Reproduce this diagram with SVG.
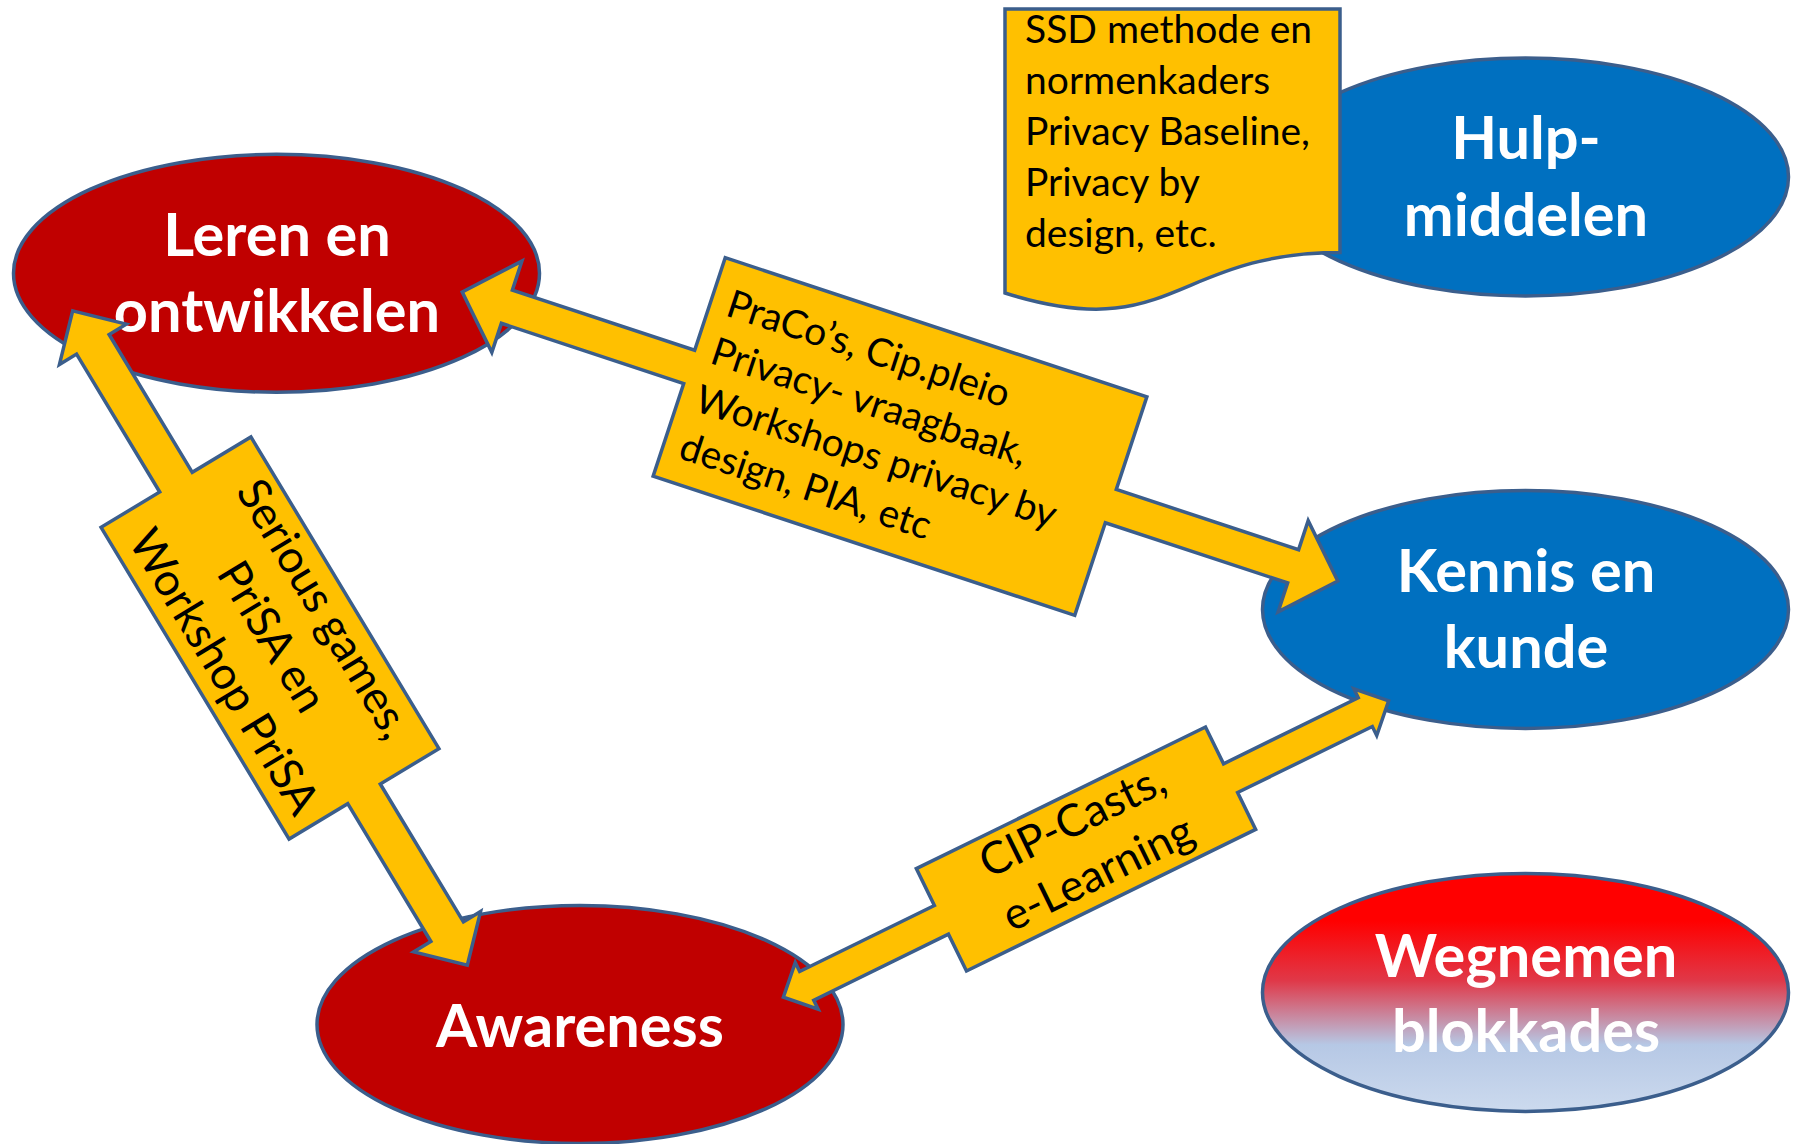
<svg xmlns="http://www.w3.org/2000/svg" width="1796" height="1144" viewBox="0 0 1796 1144">
<defs>
<linearGradient id="gradRB" x1="0" y1="0" x2="0" y2="1">
<stop offset="0" stop-color="#FF0000"/>
<stop offset="0.2" stop-color="#FF0000"/>
<stop offset="0.45" stop-color="#E03848"/>
<stop offset="0.72" stop-color="#B6C8E5"/>
<stop offset="1" stop-color="#CCDAEE"/>
</linearGradient>
</defs>
<style>
.ell { stroke: #3B5E8C; stroke-width: 3.5; }
.red { fill: #C00000; }
.blue { fill: #0070C0; }
.grad { fill: url(#gradRB); }
.yel { fill: #FFC000; stroke: #3B5E8C; stroke-width: 3.5; stroke-linejoin: miter; }
.big { font-family: Lato, "Liberation Sans", sans-serif; font-weight: bold; font-size: 59.5px; fill: #FFFFFF; text-anchor: middle; }
.doc { font-family: Lato, "Liberation Sans", sans-serif; font-size: 39px; fill: #000000; }
.l1 { font-family: Lato, "Liberation Sans", sans-serif; font-size: 39px; fill: #000000; }
.l2 { font-family: Lato, "Liberation Sans", sans-serif; font-size: 45px; fill: #000000; text-anchor: middle; }
.l3 { font-family: Lato, "Liberation Sans", sans-serif; font-size: 44.5px; fill: #000000; text-anchor: middle; }
</style>

<g id="hulpmiddelen">
<ellipse class="ell blue" cx="1525.5" cy="177" rx="263" ry="119"/>
<text class="big" x="1526" y="159">Hulp-</text>
<text class="big" x="1526" y="236">middelen</text>
</g>

<g id="ssd-document">
<path class="yel" d="M1005,9 L1340,9 L1340,252.6 C1173,252.6 1173,345.8 1005,293 Z"/>
<text class="doc" x="1025" y="42.5">SSD methode en</text>
<text class="doc" x="1025" y="93.5">normenkaders</text>
<text class="doc" x="1025" y="144.5">Privacy Baseline,</text>
<text class="doc" x="1025" y="195.5">Privacy by</text>
<text class="doc" x="1025" y="246.5">design, etc.</text>
</g>

<g id="leren-en-ontwikkelen">
<ellipse class="ell red" cx="276.5" cy="273.3" rx="263" ry="119"/>
<text class="big" x="277" y="256">Leren en</text>
<text class="big" x="277" y="332">ontwikkelen</text>
</g>

<g id="kennis-en-kunde">
<ellipse class="ell blue" cx="1525.5" cy="609.5" rx="263" ry="119"/>
<text class="big" x="1526" y="592">Kennis en</text>
<text class="big" x="1526" y="667.5">kunde</text>
</g>

<g id="wegnemen-blokkades">
<ellipse class="ell grad" cx="1525.5" cy="992.4" rx="263" ry="119"/>
<text class="big" x="1526" y="976.5">Wegnemen</text>
<text class="big" x="1526" y="1052">blokkades</text>
</g>

<g id="awareness">
<ellipse class="ell red" cx="580" cy="1024.5" rx="263" ry="119"/>
<text class="big" x="580" y="1047">Awareness</text>
</g>

<g id="connectors">
<g id="arrow-leren-kennis" transform="translate(900,436.5) rotate(18.27)">
<polygon class="yel" points="-461,0 -414,-48 -414,-17.5 -222,-17.5 -222,-115 222,-115 222,-17.5 414,-17.5 414,-48 461,0 414,48 414,17.5 222,17.5 222,115 -222,115 -222,17.5 -414,17.5 -414,48"/>
<text class="l1" x="-205" y="-60">PraCo’s, Cip.pleio</text>
<text class="l1" x="-205" y="-10">Privacy- vraagbaak,</text>
<text class="l1" x="-205" y="40">Workshops privacy by</text>
<text class="l1" x="-205" y="90">design, PIA, etc</text>
</g>
<g id="arrow-leren-awareness" transform="translate(270,638) rotate(58.9)">
<polygon class="yel" points="-382,0 -343,-39 -343,-19 -182,-19 -182,-87.5 182,-87.5 182,-19 343,-19 343,-39 382,0 343,39 343,19 182,19 182,87.5 -182,87.5 -182,19 -343,19 -343,39"/>
<text class="l2" x="3" y="-46">Serious games,</text>
<text class="l2" x="0" y="13">PriSA en</text>
<text class="l2" x="5" y="72">Workshop PriSA</text>
</g>
<g id="arrow-awareness-kennis" transform="translate(1086,849) rotate(-26.1)">
<polygon class="yel" points="-337,0 -311,-26 -311,-16 -161,-16 -161,-57 161,-57 161,-16 311,-16 311,-26 337,0 311,26 311,16 161,16 161,57 -161,57 -161,16 -311,16 -311,26"/>
<text class="l3" x="0" y="-16">CIP-Casts,</text>
<text class="l3" x="0" y="42">e-Learning</text>
</g>
</g>
</svg>
